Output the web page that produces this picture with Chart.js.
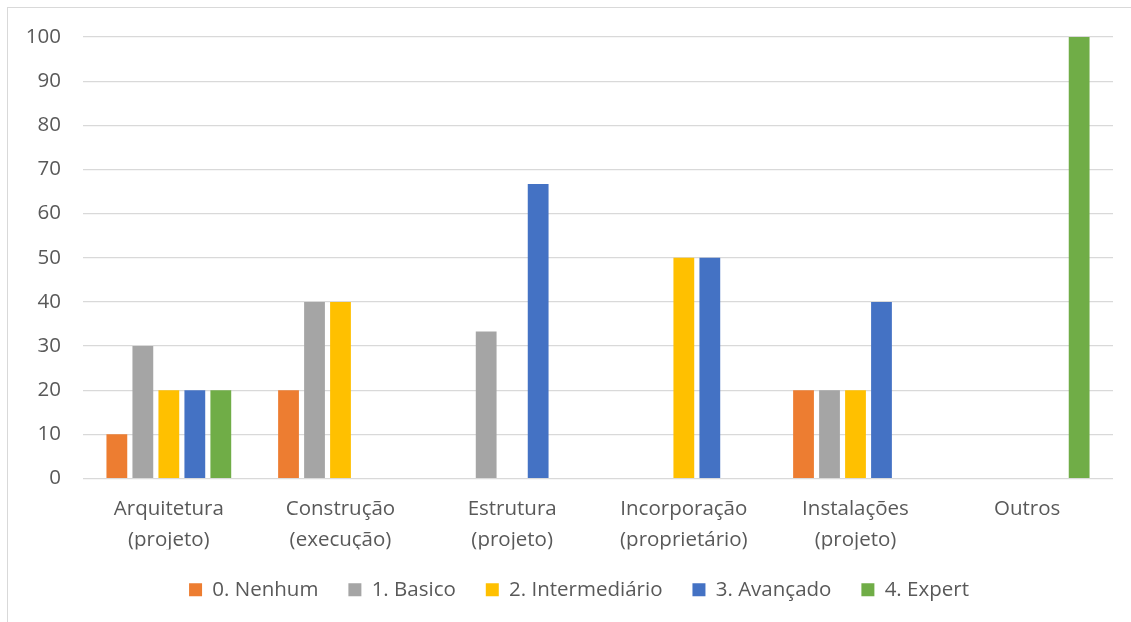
<!DOCTYPE html>
<html>
<head>
<meta charset="utf-8">
<script src="https://cdn.jsdelivr.net/npm/chart.js@4.4.1/dist/chart.umd.min.js"></script>
<style>
  html, body { margin: 0; padding: 0; background: #ffffff; }
  #frame { position: absolute; left: 7px; top: 7px; width: 1200px; height: 700px;
           border-left: 1px solid #d9d9d9; border-top: 1px solid #d9d9d9; }
  #wrap { position: absolute; left: 0; top: 0; width: 1131px; height: 622px; }
</style>
</head>
<body>
<div id="frame"></div>
<div id="wrap"><canvas id="c" width="1131" height="622"></canvas></div>
<script>
// Areas of activity (two-line labels)
const categories = [
  ["Arquitetura", "(projeto)"],
  ["Construção", "(execução)"],
  ["Estrutura", "(projeto)"],
  ["Incorporação", "(proprietário)"],
  ["Instalações", "(projeto)"],
  ["Outros"]
];

// Share of respondents (%) per knowledge level
const nenhum        = [10, 20, 0,    0,  20, 0];
const basico        = [30, 40, 33.3, 0,  20, 0];
const intermediario = [20, 40, 0,    50, 20, 0];
const avancado      = [20, 0,  66.7, 50, 40, 0];
const expert        = [20, 0,  0,    0,  0,  100];

const levelNames = ["0. Nenhum", "1. Basico", "2. Intermediário", "3. Avançado", "4. Expert"];
const levelColors = ["#ED7D31", "#A5A5A5", "#FFC000", "#4472C4", "#70AD47"];
const yTickValues = [0, 10, 20, 30, 40, 50, 60, 70, 80, 90, 100];

const textColor = "#595959";
const fontFamily = "'Open Sans', Lato, sans-serif";

const series = [nenhum, basico, intermediario, avancado, expert];
const datasets = series.map((vals, i) => ({
  label: levelNames[i],
  data: vals,
  backgroundColor: levelColors[i],
  borderWidth: 0,
  categoryPercentage: 0.757,
  barPercentage: 0.8
}));

// Centre the legend row under the plot area rather than the full canvas
const legendShift = {
  id: "legendShift",
  afterLayout(chart) {
    const lg = chart.legend;
    if (!lg) return;
    const offset = 22.5;
    lg.left += offset;
    lg.right += offset;
  }
};

new Chart(document.getElementById("c"), {
  type: "bar",
  data: { labels: categories, datasets },
  plugins: [legendShift],
  options: {
    responsive: false,
    animation: false,
    devicePixelRatio: 1,
    layout: { padding: { top: 37, right: 18, bottom: 12, left: 0 } },
    plugins: {
      title: { display: false },
      tooltip: { enabled: false },
      legend: {
        position: "bottom",
        labels: {
          boxWidth: 13,
          boxHeight: 13,
          padding: 30,
          color: textColor,
          font: { family: fontFamily, size: 20.5 }
        }
      }
    },
    scales: {
      x: {
        grid: { display: false, drawTicks: false },
        border: { display: false },
        ticks: {
          color: textColor,
          padding: 16,
          maxRotation: 0,
          autoSkip: false,
          font: { family: fontFamily, size: 20.5, lineHeight: 1.47 }
        },
        afterFit(scale) { scale.height = 71; }
      },
      y: {
        min: 0,
        max: 100,
        afterBuildTicks(scale) { scale.ticks = yTickValues.map(v => ({ value: v })); },
        grid: { color: "#D9D9D9", lineWidth: 1.2, drawTicks: false },
        border: { display: false },
        ticks: {
          color: textColor,
          padding: 22,
          font: { family: fontFamily, size: 20.5 }
        },
        afterFit(scale) { scale.width = 83; }
      }
    }
  }
});
</script>
</body>
</html>
